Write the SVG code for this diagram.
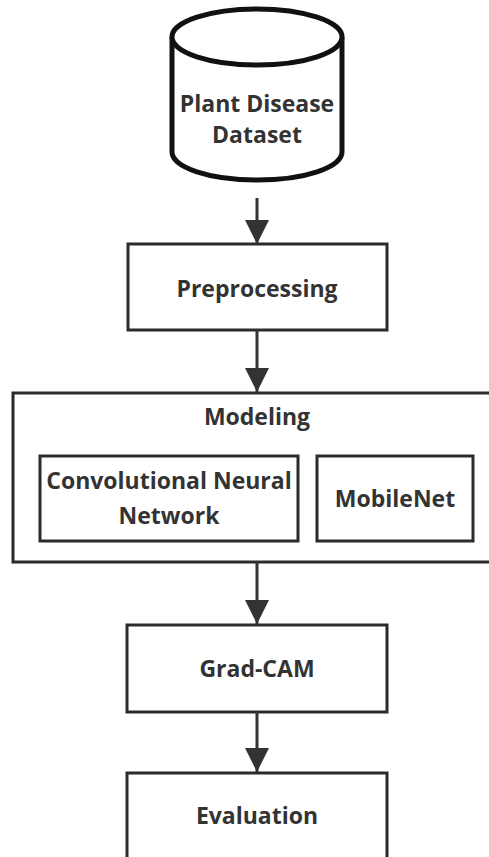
<svg xmlns="http://www.w3.org/2000/svg" width="489" height="857" viewBox="0 0 489 857">
<style>
.box{fill:#fff;stroke:#2b2b2b;stroke-width:3}
.cyl{fill:#fff;stroke:#111;stroke-width:5}
.lbl{font-family:"Open Sans","Liberation Sans",sans-serif;font-weight:700;font-size:23px;fill:#333;text-anchor:middle}
.edge{stroke:#333;stroke-width:3;fill:none}
</style>
<defs>
<marker id="ah" markerUnits="userSpaceOnUse" markerWidth="26" markerHeight="24" refX="24" refY="12" orient="auto">
<path d="M0,0 L24,12 L0,24 Z" fill="#333"/>
</marker>
</defs>
<rect width="489" height="857" fill="#fff"/>
<g id="dataset">
<path class="cyl" d="M172,37 L172,152 A85,28 0 0 0 342,152 L342,37"/>
<ellipse class="cyl" cx="257" cy="37" rx="85" ry="28"/>
<text class="lbl" x="257" y="112">Plant Disease</text>
<text class="lbl" x="257" y="143">Dataset</text>
</g>
<g id="preprocessing">
<rect class="box" x="128" y="244" width="259" height="86"/>
<text class="lbl" x="257" y="297">Preprocessing</text>
</g>
<g id="modeling">
<rect class="box" x="13" y="393" width="490" height="169"/>
<text class="lbl" x="257" y="425">Modeling</text>
<g id="cnn">
<rect class="box" x="40" y="456" width="258" height="85"/>
<text class="lbl" x="169" y="489">Convolutional Neural</text>
<text class="lbl" x="169" y="524">Network</text>
</g>
<g id="mobilenet">
<rect class="box" x="317" y="456" width="156" height="85"/>
<text class="lbl" x="395" y="507">MobileNet</text>
</g>
</g>
<g id="gradcam">
<rect class="box" x="127" y="625" width="260" height="87"/>
<text class="lbl" x="257" y="677">Grad-CAM</text>
</g>
<g id="evaluation">
<rect class="box" x="127" y="773" width="260" height="100"/>
<text class="lbl" x="257" y="824">Evaluation</text>
</g>
<g id="connectors">
<line class="edge" x1="257" y1="198" x2="257" y2="244" marker-end="url(#ah)"/>
<line class="edge" x1="257" y1="330" x2="257" y2="392" marker-end="url(#ah)"/>
<line class="edge" x1="257" y1="562" x2="257" y2="624" marker-end="url(#ah)"/>
<line class="edge" x1="257" y1="712" x2="257" y2="772" marker-end="url(#ah)"/>
</g>
</svg>
